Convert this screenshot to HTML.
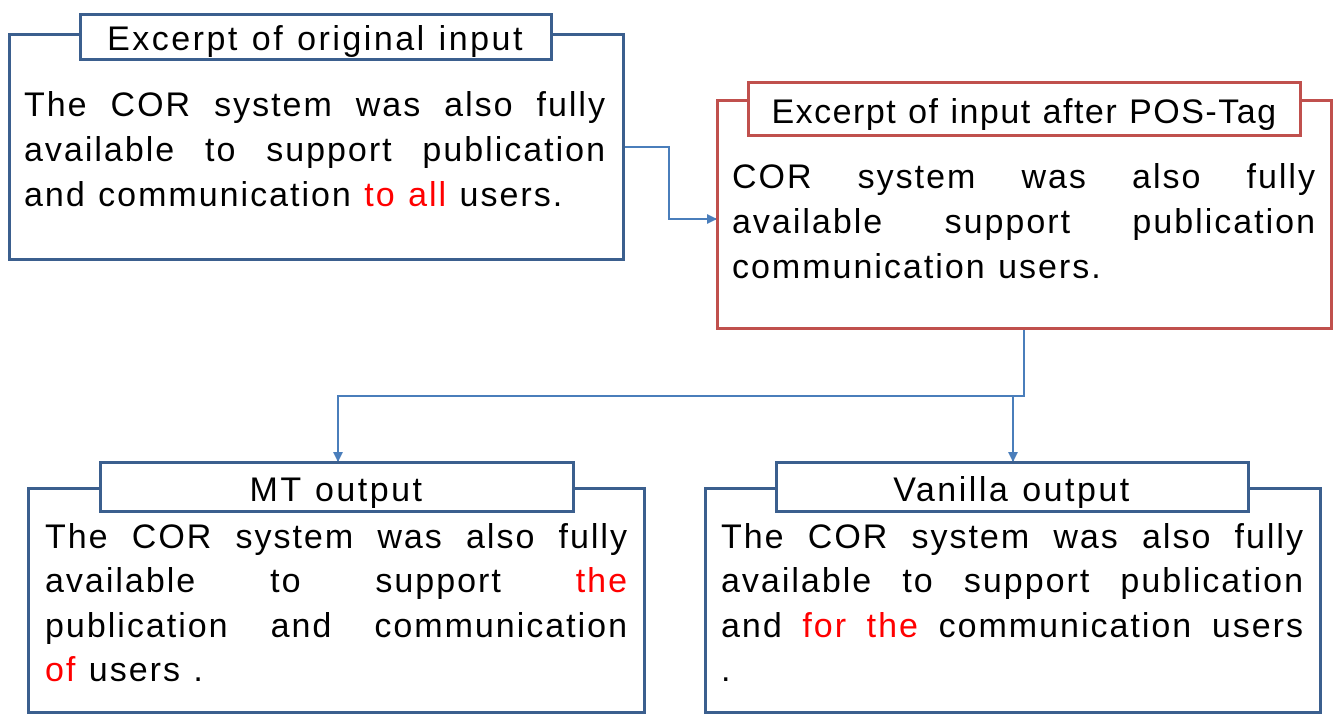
<!DOCTYPE html>
<html><head><meta charset="utf-8"><style>
body{margin:0;width:1340px;height:714px;background:#fff;position:relative;overflow:hidden;font-family:"Liberation Sans",sans-serif;}
.box{position:absolute;border:3px solid #3b5f8e;box-sizing:border-box;background:#fff;}
.red{border-color:#c0504d;}
.title{position:absolute;border:3px solid #3b5f8e;box-sizing:border-box;background:#fff;text-align:center;font-size:34px;letter-spacing:2.5px;color:#000;}
.ln{position:absolute;font-size:34px;letter-spacing:2px;color:#000;white-space:nowrap;}
.j{text-align:justify;text-align-last:justify;white-space:normal;}
.r{color:#ff0000;}
</style></head><body>
<svg width="1340" height="714" style="position:absolute;left:0;top:0">
<defs><marker id="a" markerWidth="10" markerHeight="10" refX="9" refY="5" orient="auto" markerUnits="userSpaceOnUse"><path d="M0,0 L10,5 L0,10 z" fill="#4a7ebb"/></marker></defs>
<g stroke="#4a7ebb" stroke-width="2" fill="none">
<polyline points="623,147 669,147 669,219 716,219" marker-end="url(#a)"/>
<polyline points="1024,328 1024,396 338,396 338,461" marker-end="url(#a)"/>
<polyline points="1013,396 1013,461" marker-end="url(#a)"/>
</g></svg>

<div class="box" style="left:8px;top:33px;width:617px;height:228px"></div>
<div class="title" style="left:79px;top:13px;width:474px;height:48px;line-height:46px">Excerpt of original input</div>
<div class="ln j" style="left:24px;top:86px;width:583px">The COR system was also fully</div>
<div class="ln j" style="left:24px;top:131px;width:583px">available to support publication</div>
<div class="ln" style="left:24px;top:176px">and communication <span class="r">to all</span> users.</div>

<div class="box red" style="left:716px;top:99px;width:617px;height:231px"></div>
<div class="title" style="left:747px;top:81px;width:555px;height:56px;line-height:56px;border-color:#c0504d;letter-spacing:1.5px">Excerpt of input after POS-Tag</div>
<div class="ln j" style="left:732px;top:158px;width:585px">COR system was also fully</div>
<div class="ln j" style="left:732px;top:203px;width:585px">available support publication</div>
<div class="ln" style="left:732px;top:248px">communication users.</div>

<div class="box" style="left:27px;top:487px;width:619px;height:227px"></div>
<div class="title" style="left:99px;top:461px;width:476px;height:52px;line-height:52px">MT output</div>
<div class="ln j" style="left:45px;top:518px;width:584px">The COR system was also fully</div>
<div class="ln j" style="left:45px;top:562px;width:584px">available to support <span class="r">the</span></div>
<div class="ln j" style="left:45px;top:607px;width:584px">publication and communication</div>
<div class="ln" style="left:45px;top:651px"><span class="r">of</span> users .</div>

<div class="box" style="left:704px;top:487px;width:618px;height:227px"></div>
<div class="title" style="left:775px;top:461px;width:475px;height:52px;line-height:52px">Vanilla output</div>
<div class="ln j" style="left:721px;top:518px;width:584px">The COR system was also fully</div>
<div class="ln j" style="left:721px;top:562px;width:584px">available to support publication</div>
<div class="ln j" style="left:721px;top:607px;width:584px">and <span class="r">for the</span> communication users</div>
<div class="ln" style="left:721px;top:651px">.</div>
</body></html>
